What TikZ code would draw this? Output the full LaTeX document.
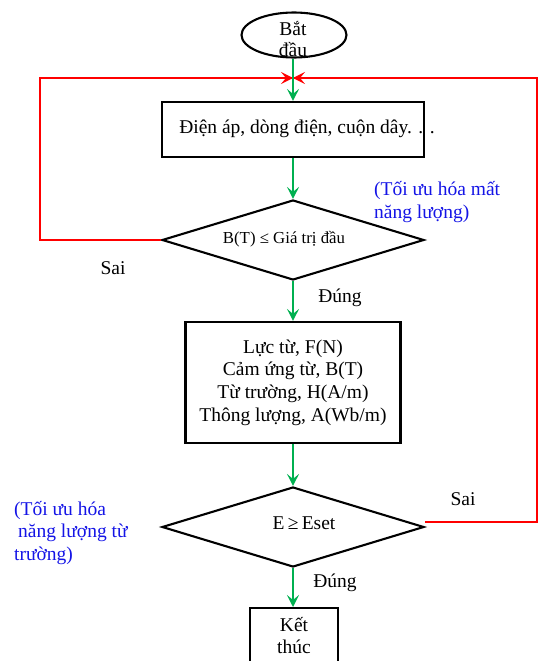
\documentclass[tikz,border=0pt]{standalone}
\usepackage{fontspec}
\setmainfont{Liberation Serif}
\usetikzlibrary{arrows.meta,shapes.geometric}
\definecolor{fgreen}{RGB}{0,176,80}
\definecolor{fred}{RGB}{255,0,0}
\definecolor{fblue}{RGB}{20,20,230}
\begin{document}
\begin{tikzpicture}[x=1pt,y=-1pt,
  txt/.style={font=\fontsize{19.5}{22.5}\selectfont, inner sep=0pt},
  frame/.style={draw=black, line width=2.1pt, inner sep=0pt},
  rectbox/.style={frame, rectangle},
  dia/.style={frame, diamond, shape aspect=3.3, minimum width=262pt, minimum height=80pt},
  garrow/.style={draw=fgreen, line width=2pt, -{Stealth[length=12pt,width=12pt,inset=5pt]}},
  rline/.style={draw=fred, line width=1.6pt},
  rarrow/.style={rline, -{Stealth[length=12pt,width=12pt,inset=5pt]}},
  note/.style={txt, text=fblue, align=left},
]
\useasboundingbox (0,0) rectangle (538,661);
\clip (0,0) rectangle (538,661);

% nodes
\node[frame, ellipse, minimum width=105pt, minimum height=45pt] (start) at (294,35) {};
\node[txt, align=center, font=\fontsize{19.5}{21}\selectfont] (startt) at (293,39) {Bắt\\đầu};
\coordinate (j) at (293,78);
\node[rectbox, minimum width=262pt, minimum height=55pt] (b1) at (293,129.5) {};
\node[txt] (b1t) at (307,129) {Điện áp, dòng điện, cuộn dây. . .};
\node[dia] (d1) at (293,240) {};
\node[txt, font=\fontsize{16.8}{19}\selectfont] (d1t) at (284,239) {B(T) ≤ Giá trị đầu};
\node[rectbox, minimum width=215pt, minimum height=121pt, txt, align=center,
      font=\fontsize{19.5}{22.7}\selectfont] (b2) at (293,382.5)
  {Lực từ, F(N)\\Cảm ứng từ, B(T)\\Từ trường, H(A/m)\\Thông lượng, A(Wb/m)};
\node[dia] (d2) at (293,527) {};
\node[txt] (d2t) at (304,523) {E\,≥\,Eset};
\node[rectbox, minimum width=88pt, minimum height=80pt, anchor=north] (b3) at (294,607) {};
\node[txt, align=center, font=\fontsize{19.5}{22}\selectfont] (b3t) at (294,636) {Kết\\thúc};

% labels
\node[txt] (sai1) at (113,268) {Sai};
\node[txt] (dung1) at (340,298) {Đúng};
\node[txt] (sai2) at (463,499) {Sai};
\node[txt] (dung2) at (335,583) {Đúng};
\node[note, anchor=west] (n1) at (374,202) {(Tối ưu hóa mất\\năng lượng)};
\node[note, anchor=west] (n2) at (14,533) {(Tối ưu hóa\\\hspace*{4pt}năng lượng từ\\trường)};

% connectors
\coordinate (lc1) at (40,240);
\coordinate (lc2) at (40,78);
\coordinate (rc1) at (537,522);
\coordinate (rc2) at (537,78);
\draw[rline] (d1.west) -- (lc1) -- (lc2) -- (j);
\draw[rarrow] (lc2) -- (j);
\draw[rline] (d2.east |- rc1) -- (rc1) -- (rc2) -- (j);
\draw[rarrow] (rc2) -- (j);

\draw[garrow] (start.south -| j) -- (b1.north);
\draw[garrow] (b1.south) -- (d1.north);
\draw[garrow] (d1.south) -- (b2.north);
\draw[garrow] (b2.south) -- (d2.north);
\draw[garrow] (d2.south) -- (d2.south |- b3.north);
\end{tikzpicture}
\end{document}
